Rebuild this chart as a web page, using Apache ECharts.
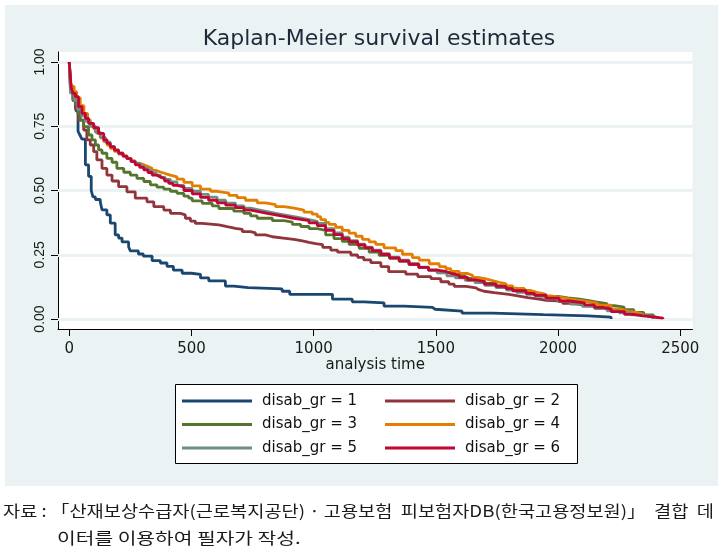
<!DOCTYPE html>
<html><head><meta charset="utf-8">
<script src="https://cdn.jsdelivr.net/npm/echarts@6/dist/echarts.min.js"></script>
<style>html,body{margin:0;padding:0;background:#fff}#c{width:725px;height:556px}</style>
</head><body><div id="c"></div>
<script>
// ---- data ----
const groupNames = ['disab_gr = 1','disab_gr = 2','disab_gr = 3','disab_gr = 4','disab_gr = 5','disab_gr = 6'];
const groupColors = ['#1A476F','#90353B','#55752F','#E37E00','#6E8E84','#C10534'];
const xTicks = [0, 500, 1000, 1500, 2000, 2500];
const yTicks = [0, 0.25, 0.5, 0.75, 1];

// [analysis time, survival estimate]
const km1 = [[0,1],[8,0.885],[18,0.85],[27,0.81],[36,0.73],[44,0.715],[52,0.70],[66,0.60],[79,0.555],[90,0.50],[97,0.475],[107,0.465],[127,0.455],[134,0.425],[154,0.405],[168,0.373],[188,0.327],[202,0.315],[216,0.30],[243,0.28],[250,0.265],[283,0.253],[303,0.245],[339,0.227],[373,0.218],[400,0.205],[426,0.19],[462,0.178],[500,0.174],[537,0.16],[571,0.148],[639,0.128],[673,0.122],[732,0.117],[871,0.108],[902,0.096],[1077,0.077],[1158,0.067],[1206,0.063],[1288,0.05],[1370,0.045],[1486,0.038],[1497,0.031],[1607,0.023],[1732,0.017],[1940,0.012],[2122,0.007],[2217,0]];
const km2 = [[0,1],[6,0.89],[15,0.85],[25,0.82],[38,0.774],[59,0.735],[72,0.697],[86,0.677],[100,0.651],[113,0.619],[134,0.586],[154,0.56],[175,0.537],[202,0.515],[236,0.495],[270,0.47],[318,0.456],[346,0.437],[387,0.424],[414,0.411],[455,0.405],[475,0.392],[496,0.381],[516,0.372],[544,0.366],[612,0.359],[646,0.353],[680,0.349],[708,0.34],[742,0.335],[762,0.327],[803,0.32],[831,0.314],[885,0.31],[919,0.304],[954,0.298],[981,0.293],[1008,0.289],[1037,0.279],[1070,0.268],[1098,0.26],[1152,0.249],[1180,0.24],[1205,0.23],[1234,0.219],[1275,0.204],[1307,0.184],[1377,0.175],[1426,0.165],[1480,0.157],[1520,0.145],[1553,0.136],[1575,0.127],[1623,0.121],[1664,0.114],[1676,0.108],[1697,0.103],[1738,0.096],[1799,0.09],[1835,0.083],[1876,0.077],[1922,0.073],[1951,0.07],[2019,0.061],[2060,0.055],[2100,0.05],[2140,0.044],[2180,0.038],[2220,0.032],[2260,0.025],[2300,0.018],[2340,0.011],[2380,0.005],[2410,0]];
const km3 = [[0,1],[6,0.88],[15,0.855],[25,0.833],[35,0.80],[45,0.774],[59,0.748],[79,0.716],[93,0.697],[107,0.677],[120,0.658],[134,0.645],[154,0.625],[175,0.61],[195,0.586],[223,0.571],[250,0.56],[277,0.547],[305,0.535],[332,0.522],[359,0.513],[387,0.505],[414,0.497],[441,0.489],[469,0.478],[489,0.47],[503,0.46],[544,0.45],[585,0.44],[612,0.43],[673,0.42],[714,0.411],[742,0.401],[769,0.392],[831,0.383],[879,0.377],[913,0.368],[947,0.36],[981,0.352],[1015,0.345],[1049,0.327],[1083,0.313],[1117,0.302],[1145,0.29],[1186,0.275],[1227,0.26],[1268,0.248],[1310,0.236],[1350,0.224],[1390,0.212],[1430,0.2],[1470,0.19],[1510,0.182],[1545,0.178],[1580,0.168],[1620,0.158],[1660,0.148],[1700,0.139],[1746,0.13],[1790,0.12],[1830,0.112],[1870,0.104],[1910,0.096],[1950,0.088],[2000,0.082],[2040,0.078],[2080,0.072],[2120,0.066],[2160,0.06],[2200,0.052],[2230,0.046],[2270,0.036],[2310,0.026],[2350,0.016],[2390,0.006]];
const km4 = [[0,1],[5,0.92],[11,0.905],[20,0.885],[30,0.86],[45,0.83],[60,0.80],[75,0.775],[86,0.755],[100,0.74],[113,0.722],[127,0.705],[141,0.69],[155,0.677],[168,0.664],[185,0.652],[202,0.642],[220,0.633],[236,0.625],[253,0.615],[270,0.606],[288,0.6],[305,0.593],[322,0.586],[339,0.578],[356,0.572],[373,0.566],[393,0.56],[414,0.553],[441,0.544],[469,0.532],[503,0.518],[537,0.505],[578,0.497],[605,0.49],[653,0.481],[687,0.472],[721,0.462],[769,0.452],[803,0.445],[844,0.437],[879,0.431],[920,0.424],[960,0.416],[994,0.408],[1015,0.398],[1029,0.387],[1049,0.376],[1063,0.368],[1090,0.357],[1117,0.345],[1145,0.334],[1172,0.322],[1199,0.31],[1227,0.3],[1254,0.29],[1288,0.277],[1336,0.266],[1363,0.252],[1404,0.239],[1432,0.229],[1473,0.215],[1514,0.204],[1541,0.196],[1561,0.185],[1596,0.177],[1630,0.17],[1650,0.162],[1671,0.156],[1705,0.149],[1732,0.143],[1759,0.137],[1787,0.129],[1814,0.119],[1862,0.111],[1889,0.104],[1910,0.098],[1944,0.09],[1971,0.084],[2012,0.079],[2040,0.074],[2074,0.068],[2121,0.062],[2160,0.054],[2217,0.039],[2250,0.032],[2279,0.026],[2320,0.019],[2347,0.012]];
const km5 = [[0,1],[5,0.88],[20,0.85],[35,0.815],[50,0.79],[66,0.77],[86,0.75],[107,0.727],[127,0.707],[148,0.688],[168,0.672],[185,0.658],[202,0.645],[220,0.635],[236,0.624],[253,0.614],[270,0.605],[290,0.595],[305,0.586],[322,0.578],[339,0.568],[356,0.56],[373,0.551],[393,0.543],[414,0.533],[441,0.52],[469,0.508],[503,0.497],[537,0.485],[570,0.474],[605,0.462],[640,0.451],[680,0.44],[715,0.431],[742,0.425],[775,0.418],[810,0.411],[845,0.405],[879,0.399],[913,0.393],[947,0.387],[981,0.38],[1015,0.372],[1049,0.352],[1083,0.335],[1117,0.318],[1145,0.305],[1180,0.291],[1210,0.28],[1240,0.268],[1275,0.254],[1310,0.241],[1350,0.229],[1390,0.215],[1430,0.202],[1470,0.19],[1505,0.18],[1545,0.168],[1580,0.16],[1620,0.15],[1660,0.142],[1700,0.131],[1746,0.122],[1790,0.112],[1830,0.104],[1870,0.096],[1910,0.088],[1950,0.078],[2000,0.068],[2050,0.058],[2100,0.049],[2150,0.04],[2200,0.032],[2250,0.024],[2300,0.016],[2340,0.01],[2388,0]];
const km6 = [[0,1],[8,0.9],[15,0.878],[25,0.865],[38,0.826],[52,0.80],[66,0.781],[79,0.761],[100,0.745],[120,0.722],[141,0.697],[155,0.683],[168,0.67],[185,0.657],[202,0.645],[220,0.634],[236,0.624],[253,0.612],[270,0.6],[288,0.59],[305,0.58],[322,0.57],[339,0.56],[356,0.553],[373,0.546],[390,0.537],[407,0.528],[424,0.52],[441,0.514],[469,0.5],[503,0.487],[537,0.473],[570,0.462],[605,0.452],[640,0.443],[680,0.433],[715,0.424],[742,0.418],[775,0.411],[810,0.405],[845,0.399],[879,0.393],[913,0.388],[947,0.383],[981,0.374],[1015,0.363],[1049,0.345],[1083,0.328],[1117,0.313],[1145,0.301],[1180,0.288],[1210,0.277],[1240,0.265],[1275,0.251],[1310,0.238],[1350,0.226],[1390,0.213],[1430,0.201],[1470,0.19],[1505,0.185],[1541,0.178],[1561,0.171],[1596,0.162],[1630,0.152],[1664,0.145],[1698,0.136],[1746,0.127],[1787,0.118],[1814,0.11],[1869,0.1],[1903,0.092],[1951,0.081],[2005,0.07],[2046,0.063],[2108,0.055],[2149,0.045],[2183,0.038],[2217,0.029],[2272,0.018],[2306,0.012],[2347,0.007],[2395,0.003],[2429,0]];
const kmGroups = [km1, km2, km3, km4, km5, km6];

const titleText = 'Kaplan-Meier survival estimates';
const xName = 'analysis time';
const note1 = '자료 : 「산재보상수급자(근로복지공단) · 고용보험  피보험자DB(한국고용정보원)」  결합  데';
const note2 = '이터를 이용하여 필자가 작성.';

// ---- chart ----
const chart = echarts.init(document.getElementById('c'), null, {renderer: 'canvas'});
const axisFont = 'DejaVu Sans';
const series = kmGroups.map((g, i) => {
  const s = {
    name: groupNames[i], type: 'line', step: 'end', data: g,
    symbol: 'none', showSymbol: false, clip: true,
    lineStyle: {width: 2.8, color: groupColors[i]},
    itemStyle: {color: groupColors[i]},
    emphasis: {disabled: true}, z: 2 + i
  };
  if (i === 0) {
    s.markLine = {
      silent: true, symbol: ['none', 'none'], z: 1, animation: false,
      label: {show: false}, emphasis: {disabled: true},
      lineStyle: {color: '#EAF2F3', width: 3, type: 'solid'},
      data: yTicks.map(v => ({yAxis: v}))
    };
  }
  return s;
});

const legendBase = {
  orient: 'vertical', top: 393.5, padding: 0, itemGap: 8.5,
  icon: 'rect', itemWidth: 70, itemHeight: 3, selectedMode: false,
  textStyle: {fontFamily: axisFont, fontSize: 15, color: '#111', padding: [0, 0, 0, 5]}
};

chart.setOption({
  animation: false,
  backgroundColor: '#ffffff',
  title: {
    text: titleText, left: 374, top: 23, textAlign: 'center',
    textStyle: {fontFamily: axisFont, fontSize: 22, fontWeight: 'normal', color: '#1E2A3A'}
  },
  grid: {left: 58, right: 32.5, top: 52, bottom: 227, show: true, backgroundColor: '#ffffff', borderWidth: 0, containLabel: false},
  xAxis: {
    type: 'value', min: -46, max: 2550,
    axisLine: {show: true, onZero: false, lineStyle: {color: '#000', width: 1}},
    axisTick: {show: true, length: 7, customValues: xTicks, lineStyle: {color: '#000', width: 1}},
    axisLabel: {customValues: xTicks, margin: 13, formatter: v => String(v), fontFamily: axisFont, fontSize: 15, color: '#1a1a1a'},
    splitLine: {show: false},
    name: xName, nameLocation: 'middle', nameGap: 29,
    nameTextStyle: {fontFamily: axisFont, fontSize: 15, color: '#1a1a1a'}
  },
  yAxis: {
    type: 'value', min: -0.0389, max: 1.0389,
    axisLine: {show: true, onZero: false, lineStyle: {color: '#000', width: 1}},
    axisTick: {show: true, length: 7, customValues: yTicks, lineStyle: {color: '#000', width: 1}},
    axisLabel: {customValues: yTicks, rotate: 90, margin: 11, formatter: v => v.toFixed(2), fontFamily: 'Liberation Sans', fontSize: 14, color: '#1a1a1a'},
    splitLine: {show: false}
  },
  legend: [
    Object.assign({}, legendBase, {left: 182, data: [groupNames[0], groupNames[2], groupNames[4]]}),
    Object.assign({}, legendBase, {left: 385, data: [groupNames[1], groupNames[3], groupNames[5]]})
  ],
  graphic: [
    {type: 'rect', shape: {x: 5, y: 5, width: 713, height: 481}, style: {fill: '#EAF2F3'}, z: -10, silent: true},
    {type: 'rect', shape: {x: 175.5, y: 384.5, width: 402, height: 79}, style: {fill: '#ffffff', stroke: '#000', lineWidth: 1}, z: -5, silent: true},
    {type: 'text', x: 3, y: 503, scaleX: 1.165, style: {text: note1, font: '16px "Noto Sans CJK KR"', fill: '#1a1a1a'}, silent: true},
    {type: 'text', x: 57, y: 530, scaleX: 1.27, style: {text: note2, font: '16px "Noto Sans CJK KR"', fill: '#1a1a1a'}, silent: true}
  ],
  series: series
});
</script></body></html>
